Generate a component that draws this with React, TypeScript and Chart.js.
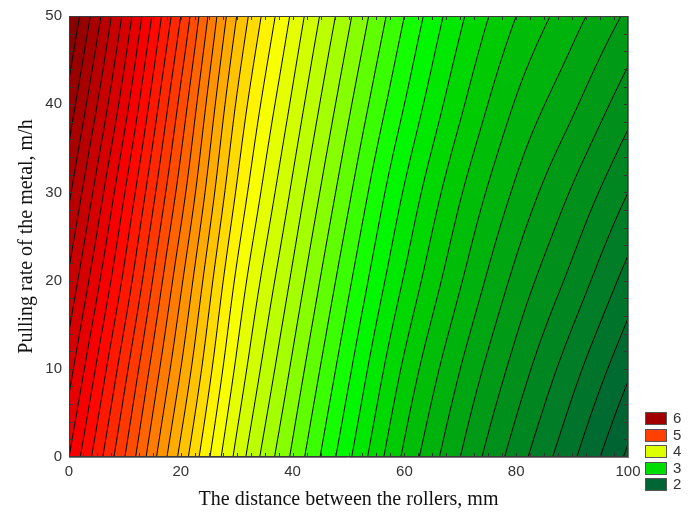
import React, { useEffect, useRef } from "react";
import { Chart, registerables } from "chart.js";

Chart.register(...registerables);

// ---- data ----
const xNodes = [0, 10, 20, 30, 40, 50, 60, 70, 80, 90, 100];
const yNodes = [0, 10, 20, 30, 40, 50];
const zAtY0 = [5.5, 5.0, 4.47, 3.97, 3.58, 3.22, 2.88, 2.6, 2.35, 2.12, 1.88];
const zAtY10 = [5.64, 5.13, 4.6, 4.08, 3.68, 3.32, 2.98, 2.7, 2.46, 2.24, 2.02];
const zAtY20 = [5.78, 5.27, 4.72, 4.18, 3.78, 3.42, 3.09, 2.81, 2.57, 2.37, 2.16];
const zAtY30 = [5.92, 5.4, 4.85, 4.29, 3.88, 3.52, 3.19, 2.91, 2.68, 2.49, 2.3];
const zAtY40 = [6.06, 5.54, 4.97, 4.39, 3.98, 3.62, 3.3, 3.02, 2.79, 2.62, 2.44];
const zAtY50 = [6.2, 5.67, 5.1, 4.5, 4.08, 3.72, 3.4, 3.12, 2.9, 2.74, 2.58];
const zRows = [zAtY0, zAtY10, zAtY20, zAtY30, zAtY40, zAtY50];

const contourStep = 0.1;
const colorStopValues = [1.5, 2.0, 2.5, 3.0, 3.3, 3.7, 4.0, 4.2, 5.0, 5.4, 6.0, 6.4];
const colorStopColors = [
  "#00552c", "#006633", "#009418", "#00d000", "#00ff00", "#99ff00",
  "#ddff00", "#ffff00", "#ff4000", "#ff0000", "#a00000", "#600000",
];

const legendValues = [6, 5, 4, 3, 2];
const legendColors = ["#a00000", "#ff4000", "#ddff00", "#00dd00", "#006633"];

const xTickValues = [0, 20, 40, 60, 80, 100];
const yTickValues = [0, 10, 20, 30, 40, 50];
const xMinorStep = 2.5;
const yMinorStep = 2;

const xTitle = "The distance between the rollers, mm";
const yTitle = "Pulling rate of the metal, m/h";

// ---- helpers ----
function hexToRgb(h: string) {
  const n = parseInt(h.slice(1), 16);
  return [(n >> 16) & 255, (n >> 8) & 255, n & 255];
}
const stopRgb = colorStopColors.map(hexToRgb);

function colorFor(v: number) {
  const s = colorStopValues;
  if (v <= s[0]) return stopRgb[0];
  if (v >= s[s.length - 1]) return stopRgb[s.length - 1];
  for (let i = 0; i < s.length - 1; i++) {
    if (v >= s[i] && v <= s[i + 1]) {
      const t = (v - s[i]) / (s[i + 1] - s[i]);
      const a = stopRgb[i], b = stopRgb[i + 1];
      return [a[0] + (b[0] - a[0]) * t, a[1] + (b[1] - a[1]) * t, a[2] + (b[2] - a[2]) * t];
    }
  }
  return stopRgb[0];
}

function cr(p0: number, p1: number, p2: number, p3: number, t: number) {
  return 0.5 * (2 * p1 + (-p0 + p2) * t + (2 * p0 - 5 * p1 + 4 * p2 - p3) * t * t + (-p0 + 3 * p1 - 3 * p2 + p3) * t * t * t);
}

function nodeVal(j: number, i: number): number {
  const nx = xNodes.length, ny = yNodes.length;
  if (j < 0) return 2 * nodeVal(0, i) - nodeVal(1, i);
  if (j >= ny) return 2 * nodeVal(ny - 1, i) - nodeVal(ny - 2, i);
  if (i < 0) return 2 * zRows[j][0] - zRows[j][1];
  if (i >= nx) return 2 * zRows[j][nx - 1] - zRows[j][nx - 2];
  return zRows[j][i];
}

function locate(nodes: number[], v: number) {
  let k = 0;
  while (k < nodes.length - 2 && v > nodes[k + 1]) k++;
  const t = (v - nodes[k]) / (nodes[k + 1] - nodes[k]);
  return [k, t] as [number, number];
}

function field(xv: number, yv: number) {
  const [i, tx] = locate(xNodes, xv);
  const [j, ty] = locate(yNodes, yv);
  const rows: number[] = [];
  for (let dj = -1; dj <= 2; dj++) {
    rows.push(cr(nodeVal(j + dj, i - 1), nodeVal(j + dj, i), nodeVal(j + dj, i + 1), nodeVal(j + dj, i + 2), tx));
  }
  return cr(rows[0], rows[1], rows[2], rows[3], ty);
}

const contourPlugin = {
  id: "contourField",
  beforeDatasetsDraw(chart: any) {
    const { ctx, chartArea } = chart;
    const xs = chart.scales.x, ys = chart.scales.y;
    const L = Math.round(chartArea.left), T = Math.round(chartArea.top);
    const W = Math.round(chartArea.right) - L, H = Math.round(chartArea.bottom) - T;
    const img = ctx.createImageData(W, H);
    const cache: Record<number, number[]> = {};
    const xv: number[] = [];
    for (let px = 0; px < W; px++) xv.push(xs.getValueForPixel(L + px + 0.5));
    for (let py = 0; py < H; py++) {
      const yv = ys.getValueForPixel(T + py + 0.5);
      for (let px = 0; px < W; px++) {
        const v = field(xv[px], yv);
        const k = Math.floor(v / contourStep);
        let c = cache[k];
        if (!c) { c = colorFor((k + 0.5) * contourStep); cache[k] = c; }
        const o = (py * W + px) * 4;
        img.data[o] = c[0]; img.data[o + 1] = c[1]; img.data[o + 2] = c[2]; img.data[o + 3] = 255;
      }
    }
    ctx.putImageData(img, L, T);

    // contour lines: marching squares on a fine grid
    const cell = 2;
    const nxC = Math.ceil(W / cell), nyC = Math.ceil(H / cell);
    const G: number[][] = [];
    const gx: number[] = [], gy: number[] = [];
    for (let i = 0; i <= nxC; i++) gx.push(Math.min(L + i * cell, L + W));
    for (let j = 0; j <= nyC; j++) gy.push(Math.min(T + j * cell, T + H));
    for (let j = 0; j <= nyC; j++) {
      const row: number[] = [];
      const yv = ys.getValueForPixel(gy[j]);
      for (let i = 0; i <= nxC; i++) row.push(field(xs.getValueForPixel(gx[i]), yv));
      G.push(row);
    }
    ctx.save();
    ctx.beginPath();
    ctx.rect(L, T, W, H);
    ctx.clip();
    ctx.beginPath();
    for (let j = 0; j < nyC; j++) {
      for (let i = 0; i < nxC; i++) {
        const a = G[j][i], b = G[j][i + 1], c = G[j + 1][i + 1], d = G[j + 1][i];
        const lo = Math.min(a, b, c, d), hi = Math.max(a, b, c, d);
        const k0 = Math.ceil(lo / contourStep), k1 = Math.floor(hi / contourStep);
        for (let k = k0; k <= k1; k++) {
          const lv = k * contourStep;
          const pts: number[][] = [];
          const x0 = gx[i], x1 = gx[i + 1], y0 = gy[j], y1 = gy[j + 1];
          if ((a >= lv) !== (b >= lv)) { const t = (lv - a) / (b - a); pts.push([x0 + (x1 - x0) * t, y0]); }
          if ((b >= lv) !== (c >= lv)) { const t = (lv - b) / (c - b); pts.push([x1, y0 + (y1 - y0) * t]); }
          if ((d >= lv) !== (c >= lv)) { const t = (lv - d) / (c - d); pts.push([x0 + (x1 - x0) * t, y1]); }
          if ((a >= lv) !== (d >= lv)) { const t = (lv - a) / (d - a); pts.push([x0, y0 + (y1 - y0) * t]); }
          for (let p = 0; p + 1 < pts.length; p += 2) {
            ctx.moveTo(pts[p][0], pts[p][1]);
            ctx.lineTo(pts[p + 1][0], pts[p + 1][1]);
          }
        }
      }
    }
    ctx.strokeStyle = "#000";
    ctx.lineWidth = 1;
    ctx.stroke();
    ctx.restore();
  },
  afterDraw(chart: any) {
    const { ctx, chartArea } = chart;
    const xs = chart.scales.x, ys = chart.scales.y;
    const L = chartArea.left, T = chartArea.top, R = chartArea.right, B = chartArea.bottom;
    ctx.save();
    // minor ticks (inside, on all four sides)
    ctx.strokeStyle = "#333";
    ctx.lineWidth = 1;
    ctx.beginPath();
    const tl = 4;
    for (let v = xs.min; v <= xs.max + 1e-9; v += xMinorStep) {
      const p = Math.round(xs.getPixelForValue(v)) + 0.5;
      ctx.moveTo(p, B); ctx.lineTo(p, B - tl);
      ctx.moveTo(p, T); ctx.lineTo(p, T + tl);
    }
    for (let v = ys.min; v <= ys.max + 1e-9; v += yMinorStep) {
      const p = Math.round(ys.getPixelForValue(v)) + 0.5;
      ctx.moveTo(L, p); ctx.lineTo(L + tl, p);
      ctx.moveTo(R, p); ctx.lineTo(R - tl, p);
    }
    ctx.stroke();
    // frame
    ctx.strokeStyle = "#3a3a3a";
    ctx.lineWidth = 1;
    ctx.strokeRect(L + 0.5, T + 0.5, R - L - 1, B - T - 1);
    ctx.beginPath();
    ctx.strokeStyle = "#777";
    ctx.moveTo(L, B + 0.5); ctx.lineTo(R, B + 0.5);
    ctx.moveTo(R + 0.5, T); ctx.lineTo(R + 0.5, B + 1);
    ctx.stroke();

    // legend
    const sx = 645, sw = 22, sh = 13, y0 = 418.5, pitch = 16.5;
    ctx.font = "15px 'Liberation Sans', Arial, sans-serif";
    ctx.textBaseline = "middle";
    ctx.textAlign = "left";
    legendValues.forEach((v, i) => {
      const yc = y0 + i * pitch;
      ctx.fillStyle = legendColors[i];
      ctx.fillRect(sx, Math.round(yc - sh / 2), sw, sh);
      ctx.strokeStyle = "#555";
      ctx.lineWidth = 1;
      ctx.strokeRect(sx + 0.5, Math.round(yc - sh / 2) + 0.5, sw - 1, sh - 1);
      ctx.fillStyle = "#333";
      ctx.fillText(String(v), 673, yc + 0.5);
    });
    ctx.restore();
  },
};

export default function App() {
  const ref = useRef<HTMLCanvasElement | null>(null);
  useEffect(() => {
    if (!ref.current) return;
    const tickFont = { family: "'Liberation Sans', Arial, sans-serif", size: 15 };
    const titleFont = { family: "'Liberation Serif', 'Times New Roman', serif", size: 20 };
    const chart = new Chart(ref.current, {
      type: "scatter",
      data: { datasets: [] },
      plugins: [contourPlugin],
      options: {
        animation: false,
        responsive: false,
        devicePixelRatio: 1,
        layout: { padding: { top: 15, right: 61, left: 0, bottom: 0 } },
        plugins: { legend: { display: false }, tooltip: { enabled: false } },
        scales: {
          x: {
            type: "linear",
            min: 0,
            max: 100,
            afterBuildTicks: (s: any) => { s.ticks = xTickValues.map((v) => ({ value: v })); },
            afterFit: (s: any) => { s.height = 55; },
            grid: { display: false, drawTicks: false },
            border: { display: false },
            ticks: { font: tickFont, color: "#333", padding: 6, maxRotation: 0, autoSkip: false },
            title: { display: true, text: xTitle, font: titleFont, color: "#111", padding: { top: 0, bottom: 0 } },
          },
          y: {
            type: "linear",
            min: 0,
            max: 50,
            afterBuildTicks: (s: any) => { s.ticks = yTickValues.map((v) => ({ value: v })); },
            afterFit: (s: any) => { s.width = 69; },
            grid: { display: false, drawTicks: false },
            border: { display: false },
            ticks: { font: tickFont, color: "#333", padding: 7, autoSkip: false },
            title: { display: true, text: yTitle, font: titleFont, color: "#111", padding: { top: 15, bottom: 0 } },
          },
        },
      },
    } as any);
    return () => chart.destroy();
  }, []);
  return (
    <div style={{ position: "absolute", left: 0, top: 0, width: 689, height: 512, background: "#fff" }}>
      <canvas ref={ref} width={689} height={512} style={{ width: 689, height: 512, display: "block" }} />
    </div>
  );
}
